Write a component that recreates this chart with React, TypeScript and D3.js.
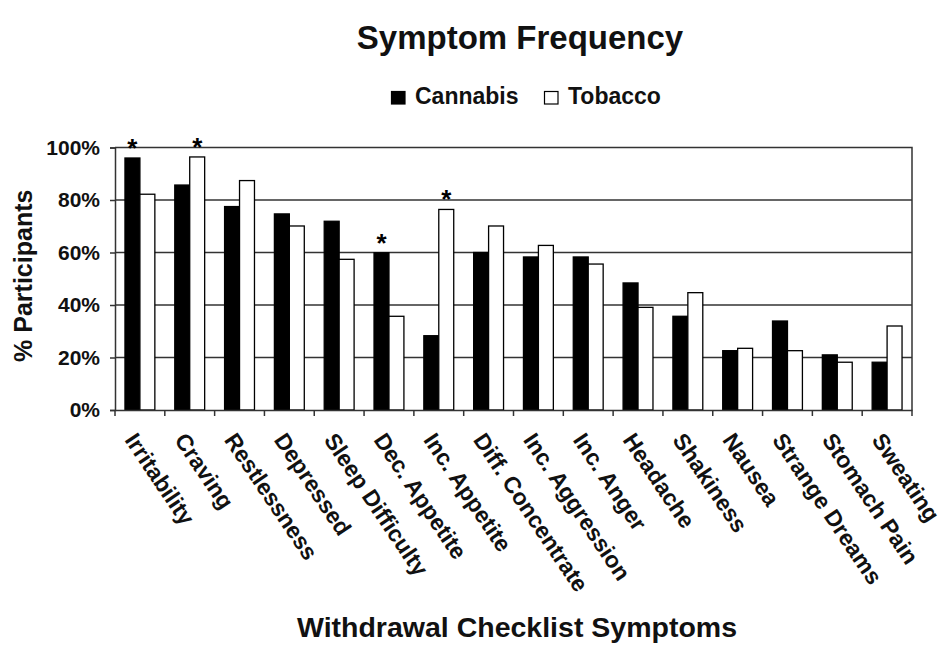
import { useEffect, useRef } from "react";
import * as d3 from "d3";

const categories = [
  "Irritability", "Craving", "Restlessness", "Depressed", "Sleep Difficulty",
  "Dec. Appetite", "Inc. Appetite", "Diff. Concentrate", "Inc. Aggression", "Inc. Anger",
  "Headache", "Shakiness", "Nausea", "Strange Dreams", "Stomach Pain", "Sweating",
];
const series = ["Cannabis", "Tobacco"];
const cannabis = [96, 85.7, 77.5, 74.7, 71.9, 59.9, 28.3, 60, 58.3, 58.3, 48.4, 35.7, 22.6, 33.9, 21, 18.2];
const tobacco = [82.2, 96.4, 87.4, 70.1, 57.4, 35.7, 76.4, 70.1, 62.7, 55.6, 39.1, 44.7, 23.5, 22.6, 18.2, 32];
const significant = [
  { category: "Irritability", series: "Cannabis" },
  { category: "Craving", series: "Tobacco" },
  { category: "Dec. Appetite", series: "Cannabis" },
  { category: "Inc. Appetite", series: "Tobacco" },
];
const yTicks = [0, 20, 40, 60, 80, 100];

const W = 944;
const H = 649;
const FONT = "'Liberation Sans', Arial, Helvetica, sans-serif";

export default function App() {
  const svgRef = useRef<SVGSVGElement | null>(null);

  useEffect(() => {
    const svg = d3.select(svgRef.current);
    svg.selectAll("*").remove();

    const margin = { top: 147.5, right: 32, bottom: 239, left: 115 };
    const width = W - margin.left - margin.right;
    const height = H - margin.top - margin.bottom;
    const g = svg.append("g").attr("transform", `translate(${margin.left},${margin.top})`);

    const x0 = d3.scaleBand().domain(categories).range([0, width]);
    const bw = x0.bandwidth();
    const x1 = d3.scaleBand().domain(series).range([bw * 0.2, bw * 0.8]);
    const y = d3.scaleLinear().domain([0, 100]).range([height, 0]);

    // gridlines
    g.selectAll("line.grid")
      .data(yTicks.filter(t => t > 0 && t < 100))
      .join("line")
      .attr("x1", 0).attr("x2", width)
      .attr("y1", d => y(d)).attr("y2", d => y(d))
      .attr("stroke", "#333").attr("stroke-width", 1.5);

    // frame top and right
    g.append("path")
      .attr("d", `M0,${y(100)}H${width}V${height}`)
      .attr("fill", "none").attr("stroke", "#333").attr("stroke-width", 1.5);

    const rows = categories.map((c, i) => ({ category: c, values: [cannabis[i], tobacco[i]] }));
    const groups = g.selectAll("g.cat").data(rows).join("g")
      .attr("transform", d => `translate(${x0(d.category)},0)`);
    groups.selectAll("rect")
      .data(d => d.values.map((v, j) => ({ s: series[j], v })))
      .join("rect")
      .attr("x", d => x1(d.s)!)
      .attr("width", x1.bandwidth())
      .attr("y", d => y(d.v))
      .attr("height", d => height - y(d.v))
      .attr("fill", d => (d.s === "Cannabis" ? "#000" : "#fff"))
      .attr("stroke", "#000").attr("stroke-width", 1.3);

    // significance stars
    g.selectAll("text.star")
      .data(significant)
      .join("text")
      .attr("x", d => x0(d.category)! + x1(d.series)! + x1.bandwidth() / 2)
      .attr("y", d => {
        const i = categories.indexOf(d.category);
        const v = d.series === "Cannabis" ? cannabis[i] : tobacco[i];
        return y(v) - 1;
      })
      .attr("text-anchor", "middle")
      .attr("font-family", FONT).attr("font-weight", "bold").attr("font-size", 26)
      .text("*");

    // y axis
    const yAxis = g.append("g")
      .call(d3.axisLeft(y).tickValues(yTicks).tickSize(5).tickPadding(10).tickFormat(d => `${d}%`));
    yAxis.select(".domain").attr("stroke", "#333").attr("stroke-width", 1.5);
    yAxis.selectAll(".tick line").attr("stroke", "#333").attr("stroke-width", 1.5);
    yAxis.selectAll(".tick text")
      .attr("font-family", FONT).attr("font-weight", "bold").attr("font-size", 21).attr("fill", "#111");

    // x axis
    const xAxis = g.append("g").attr("transform", `translate(0,${height})`)
      .call(d3.axisBottom(x0).tickSize(0).tickFormat(() => ""));
    xAxis.select(".domain").attr("stroke", "#333").attr("stroke-width", 1.5);
    g.selectAll("line.xtick")
      .data(d3.range(categories.length + 1))
      .join("line")
      .attr("x1", i => i * bw).attr("x2", i => i * bw)
      .attr("y1", height).attr("y2", height + 6)
      .attr("stroke", "#333").attr("stroke-width", 1.5);

    g.selectAll("text.xlab")
      .data(categories)
      .join("text")
      .attr("transform", d => `translate(${x0(d)! + bw / 2 - 16},${height + 30}) rotate(56)`)
      .attr("font-family", FONT).attr("font-weight", "bold").attr("font-size", 23).attr("fill", "#111")
      .text(d => d);

    // titles
    svg.append("text")
      .attr("x", 520).attr("y", 49)
      .attr("text-anchor", "middle")
      .attr("font-family", FONT).attr("font-weight", "bold").attr("font-size", 33).attr("fill", "#111")
      .text("Symptom Frequency");

    svg.append("text")
      .attr("x", 517).attr("y", 637)
      .attr("text-anchor", "middle")
      .attr("font-family", FONT).attr("font-weight", "bold").attr("font-size", 28.5).attr("fill", "#111")
      .text("Withdrawal Checklist Symptoms");

    svg.append("text")
      .attr("transform", `translate(32,${margin.top + height / 2 - 3}) rotate(-90)`)
      .attr("text-anchor", "middle")
      .attr("font-family", FONT).attr("font-weight", "bold").attr("font-size", 25).attr("fill", "#111")
      .text("% Participants");

    // legend
    const legend = svg.append("g").attr("transform", "translate(391,91)");
    const legendX = [0, 153];
    series.forEach((s, i) => {
      legend.append("rect")
        .attr("x", legendX[i] + 0.5).attr("y", 0.5).attr("width", 13.5).attr("height", 12.5)
        .attr("fill", i === 0 ? "#000" : "#fff").attr("stroke", "#000").attr("stroke-width", 1.2);
      legend.append("text")
        .attr("x", legendX[i] + 24).attr("y", 12.5)
        .attr("font-family", FONT).attr("font-weight", "bold").attr("font-size", 23).attr("fill", "#111")
        .text(s);
    });
  }, []);

  return (
    <svg
      ref={svgRef}
      width={W}
      height={H}
      style={{ position: "absolute", left: 0, top: 0, background: "#fff" }}
    />
  );
}
